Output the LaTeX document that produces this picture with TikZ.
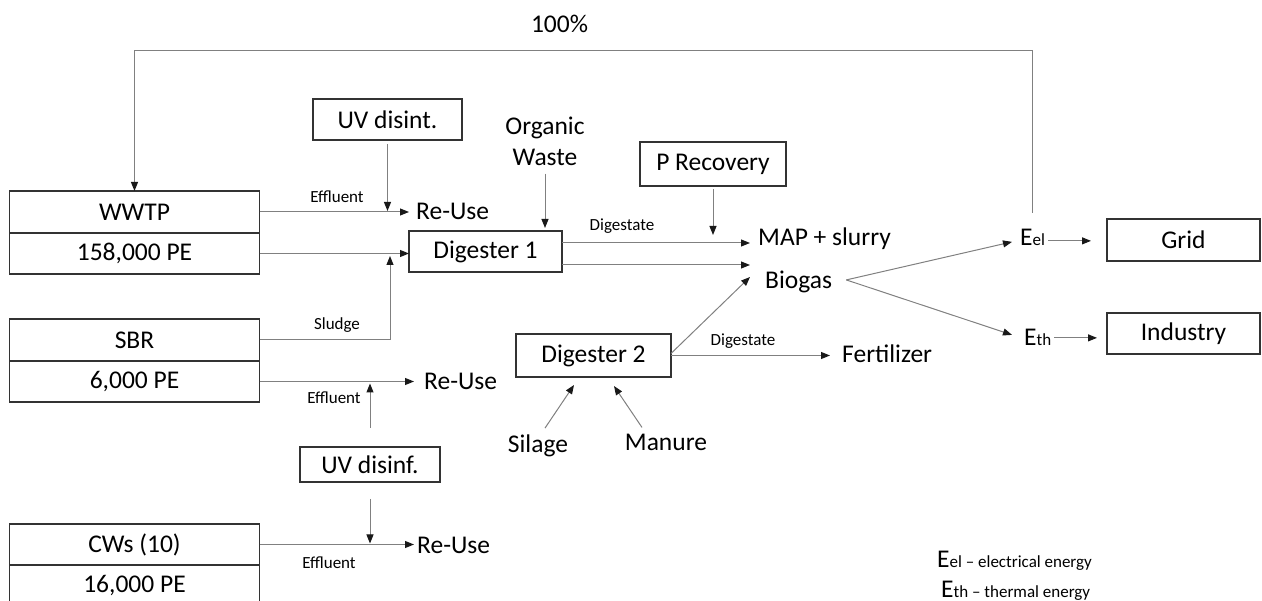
\documentclass[tikz,border=0pt]{standalone}
\usepackage{fontspec}
\setmainfont{Carlito}
\usetikzlibrary{arrows.meta}

\newcommand{\mainsize}{\fontsize{25.5}{31}\selectfont}
\newcommand{\lblsize}{\fontsize{17}{20}\selectfont}

\begin{document}
\begin{tikzpicture}[x=1pt, y=-1pt,
  box/.style={draw=black!80, line width=1.3pt, inner sep=0pt, outer sep=0pt, font=\mainsize},
  txt/.style={inner sep=3pt, font=\mainsize},
  lbl/.style={inner sep=0pt, font=\lblsize},
  flow/.style={draw=black!50, line width=1pt, -{Triangle[length=9pt, width=7pt, color=black!90]}}]

  \useasboundingbox (0,0) rectangle (1262,601);

  % ── treatment plants (name + size) ───────────────────────────────────────
  \node[box, minimum width=250pt, minimum height=42pt] (wwtp) at (134.5,212) {WWTP};
  \node[box, minimum width=250pt, minimum height=41pt, anchor=north] (wwtppe) at (wwtp.south) {158,000 PE};
  \node[box, minimum width=250pt, minimum height=42pt] (sbr) at (134.5,340) {SBR};
  \node[box, minimum width=250pt, minimum height=41pt, anchor=north] (sbrpe) at (sbr.south) {6,000 PE};
  \node[box, minimum width=250pt, minimum height=41pt] (cws) at (134.5,544.5) {CWs (10)};
  \node[box, minimum width=250pt, minimum height=41pt, anchor=north] (cwspe) at (cws.south) {16,000 PE};

  % ── process boxes ────────────────────────────────────────────────────────
  \node[box, minimum width=149pt, minimum height=41pt] (uvA) at (387.5,119.5) {UV disint.};
  \node[box, minimum width=146pt, minimum height=44pt] (prec) at (713,164) {P Recovery};
  \node[box, minimum width=153pt, minimum height=41pt] (dig1) at (485.5,251.5) {Digester 1};
  \node[box, minimum width=155pt, minimum height=43pt] (dig2) at (593.5,355.5) {Digester 2};
  \node[box, minimum width=140pt, minimum height=35pt] (uvB) at (370,464.5) {UV disinf.};
  \node[box, minimum width=153pt, minimum height=42pt] (grid) at (1183.5,240) {Grid};
  \node[box, minimum width=153pt, minimum height=41pt] (ind) at (1183.5,333.5) {Industry};

  % ── products and inputs ──────────────────────────────────────────────────
  \node[txt, anchor=base] (pct) at (559.5,33) {100\%};
  \node[txt, anchor=base west] (reuse1) at (413,220) {Re-Use};
  \node[txt, anchor=base west] (reuse2) at (421,390) {Re-Use};
  \node[txt, anchor=base west] (reuse3) at (414,554) {Re-Use};
  \node[txt, align=center] (orgw) at (545,141) {Organic\\Waste};
  \node[txt, anchor=base west] (map) at (755,246) {MAP + slurry};
  \node[txt, anchor=base west] (biogas) at (762,288.5) {Biogas};
  \node[txt, anchor=base west] (fert) at (839,363) {Fertilizer};
  \node[txt, anchor=base] (silage) at (538,453) {Silage};
  \node[txt, anchor=base] (manure) at (666,451) {Manure};
  \node[txt, anchor=base west] (eel) at (1017,246) {E{\lblsize el}};
  \node[txt, anchor=base west] (eth) at (1021,346) {E{\lblsize th}};

  % ── small flow labels ────────────────────────────────────────────────────
  \node[lbl, anchor=base] (eff1) at (337,202.5) {Effluent};
  \node[lbl, anchor=base] (eff2) at (334,403.5) {Effluent};
  \node[lbl, anchor=base] (eff3) at (329,568.5) {Effluent};
  \node[lbl, anchor=base] (sludge) at (337,329.5) {Sludge};
  \node[lbl, anchor=base] (dgs1) at (622,230.5) {Digestate};
  \node[lbl, anchor=base] (dgs2) at (743,345.5) {Digestate};

  % ── legend ───────────────────────────────────────────────────────────────
  \node[lbl, anchor=base west] (leg1) at (937,568) {{\mainsize E}el -- electrical energy};
  \node[lbl, anchor=base west] (leg2) at (941,597) {{\mainsize E}th -- thermal energy};

  % ── free ends ────────────────────────────────────────────────────────────
  \coordinate (fbstart) at (1032,213);
  \coordinate (fbtop) at (0,51);
  \coordinate (sludgeup) at (390,256);
  \coordinate (precin) at (713,235);
  \coordinate (bgin) at (750,277);
  \coordinate (bgout) at ([xshift=11pt,yshift=2pt]biogas.east);

  % ── energy feedback (100%) ───────────────────────────────────────────────
  \draw[flow] (fbstart) -- (fbstart |- fbtop) -| (wwtp.north);

  % ── WWTP and SBR ─────────────────────────────────────────────────────────
  \draw[flow, shorten >=4pt] (wwtp.east) -- (wwtp.east -| reuse1.west);
  \draw[flow, shorten >=1pt] ([yshift=-4pt]uvA.south) -- (uvA.south |- wwtp.east);
  \draw[flow] (wwtppe.east) -- (wwtppe.east -| dig1.west);
  \draw[flow] (sbr.east) -| (sludgeup);
  \draw[flow, shorten >=7pt] (sbrpe.east) -- (sbrpe.east -| reuse2.west);
  \draw[flow, shorten >=2pt] ([yshift=19pt]uvB.north) -- (uvB.north |- sbrpe.east);

  % ── constructed wetlands ─────────────────────────────────────────────────
  \draw[flow, shorten >=1pt] ([yshift=-17pt]uvB.south) -- (uvB.south |- cws.east);
  \draw[flow] (cws.east) -- (cws.east -| reuse3.west);

  % ── digesters ────────────────────────────────────────────────────────────
  \draw[flow, shorten >=3pt] ([yshift=-5pt]orgw.south) -- (orgw.south |- dig1.north);
  \draw[flow] ([yshift=-3pt]prec.south) -- (precin);
  \draw[flow, shorten >=5pt] ([yshift=8.5pt]dig1.east) -- ([yshift=8.5pt]dig1.east -| map.west);
  \draw[flow, shorten >=5pt] ([yshift=-13.5pt]dig1.east) -- ([yshift=-13.5pt]dig1.east -| map.west);
  \draw[flow] ([yshift=2pt]dig2.east) -- (bgin);
  \draw[flow, shorten >=9pt] (dig2.east) -- (dig2.east -| fert.west);
  \draw[flow] ([xshift=7pt,yshift=4pt]silage.north) -- ([xshift=-19.5pt,yshift=-8pt]dig2.south);
  \draw[flow] ([xshift=-24pt,yshift=4pt]manure.north) -- ([xshift=20.5pt,yshift=-9pt]dig2.south);

  % ── energy use ───────────────────────────────────────────────────────────
  \draw[flow] (bgout) -- ([xshift=-5pt,yshift=-4pt]eel.west);
  \draw[flow] (bgout) -- ([xshift=-9pt,yshift=3pt]eth.west);
  \draw[flow, shorten >=16pt] ([yshift=-3pt]eel.east) -- ([yshift=-3pt]eel.east -| grid.west);
  \draw[flow, shorten >=10pt] (eth.east) -- (eth.east -| ind.west);

\end{tikzpicture}
\end{document}
